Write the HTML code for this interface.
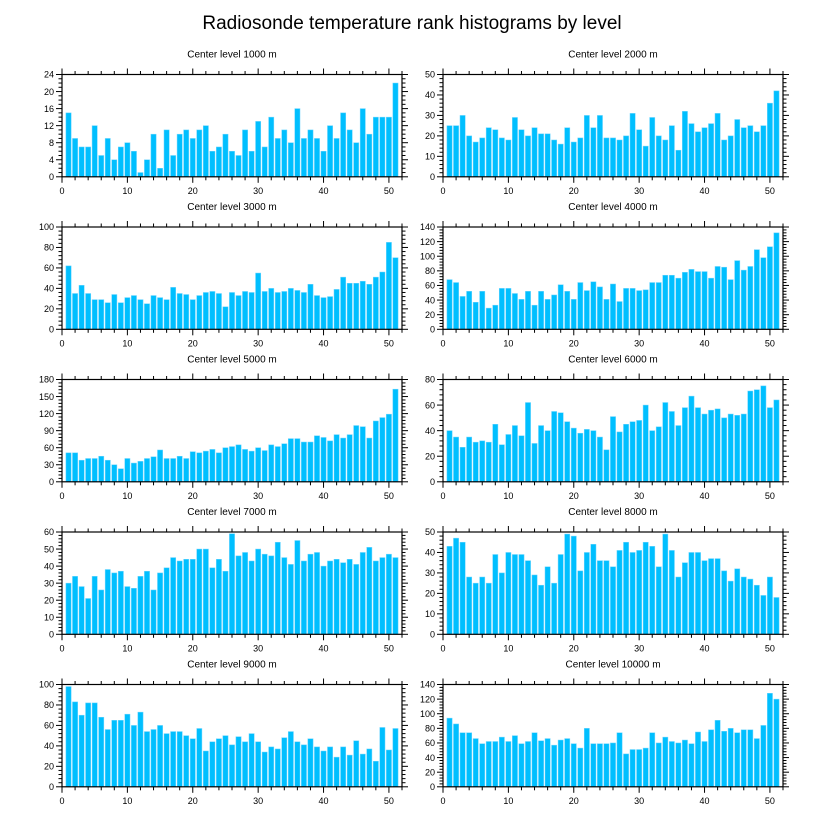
<!DOCTYPE html>
<html><head><meta charset="utf-8"><style>
html,body{margin:0;padding:0;background:#fff;}
svg{display:block;font-family:"Liberation Sans",Arial,sans-serif;}
</style></head><body>
<svg id="chart" width="824" height="824" viewBox="0 0 824 824" xmlns="http://www.w3.org/2000/svg">
<rect x="0" y="0" width="824" height="824" fill="#fff"/>
<text x="412" y="29" text-anchor="middle" font-size="19" fill="#000">Radiosonde temperature rank histograms by level</text>
</svg>
<script>
const levels = [1000,2000,3000,4000,5000,6000,7000,8000,9000,10000];
const yMax = [24,50,100,140,180,80,60,50,100,140];
const yStep = [4,10,20,20,30,20,10,10,20,20];
const xTicks = [0,10,20,30,40,50];
const v1000 = [15,9,7,7,12,5,9,4,7,8,6,1,4,10,2,11,5,10,11,9,11,12,6,7,10,6,5,11,6,13,7,14,9,11,8,16,9,11,9,6,12,9,15,11,8,16,10,14,14,14,22];
const v2000 = [25,25,30,20,17,19,24,23,19,18,29,23,20,24,21,21,18,16,24,17,19,30,24,30,19,19,18,20,31,23,15,29,20,18,25,13,32,26,22,24,26,31,18,20,28,24,25,22,25,36,42];
const v3000 = [62,35,43,35,29,29,26,34,26,31,33,29,25,33,31,29,41,35,34,29,33,36,37,35,22,36,33,37,36,55,37,40,36,37,40,38,36,44,33,31,32,39,51,45,45,47,44,51,56,85,70];
const v4000 = [68,64,45,52,37,52,29,33,56,56,49,41,52,33,52,41,47,61,52,41,64,53,65,58,41,62,38,56,56,53,54,64,64,74,74,70,78,82,79,79,70,86,85,68,94,81,86,109,98,113,132];
const v5000 = [51,51,38,41,41,45,38,30,23,41,33,36,41,44,56,41,41,45,41,53,51,54,57,51,60,62,65,57,54,60,55,65,62,67,76,76,70,70,81,78,72,83,77,83,99,97,77,107,113,119,163];
const v6000 = [40,35,27,35,31,32,31,45,29,37,44,36,62,30,44,40,55,54,47,42,38,41,40,35,25,51,39,45,47,48,60,40,43,62,55,44,58,67,58,53,56,57,50,53,52,53,71,72,75,58,64];
const v7000 = [30,34,28,21,34,26,38,36,37,28,27,34,37,26,36,39,45,43,44,44,50,50,39,44,37,59,46,48,43,50,47,46,54,45,41,55,43,47,48,40,43,44,42,44,41,48,51,43,45,47,45];
const v8000 = [43,47,45,28,25,28,25,39,30,40,39,39,36,29,24,33,25,39,49,48,31,40,44,36,36,33,41,45,40,41,45,43,33,49,41,28,35,40,40,36,37,37,31,26,32,28,27,24,19,28,18];
const v9000 = [98,83,70,82,82,68,56,65,65,71,60,73,54,56,60,52,54,54,50,47,57,35,44,47,50,41,49,44,52,44,34,39,37,48,54,44,41,47,39,35,39,29,39,31,45,32,37,25,58,36,57];
const v10000 = [94,86,74,74,66,59,62,62,68,62,70,59,62,74,63,66,57,64,66,59,53,80,59,59,59,60,74,45,51,51,53,74,60,68,62,60,64,59,75,62,78,91,76,80,74,78,78,66,84,128,120];
const series = [v1000,v2000,v3000,v4000,v5000,v6000,v7000,v8000,v9000,v10000];

const NS = "http://www.w3.org/2000/svg";
const svg = document.getElementById('chart');
const PW = 340, PH = 102.3, XMAX = 52;
const lefts = [62, 443];
const tops = [74.5, 227, 379.5, 532, 684.5];
function mk(tag, attrs, parent){
  const e = document.createElementNS(NS, tag);
  for (const k in attrs) e.setAttribute(k, attrs[k]);
  parent.appendChild(e);
  return e;
}
series.forEach((vals, p) => {
  const L = lefts[p % 2], T = tops[Math.floor(p / 2)];
  const B = T + PH;
  const xs = x => L + x / XMAX * PW;
  const ys = y => B - y / yMax[p] * PH;
  const g = mk('g', {}, svg);
  
  
  const t = mk('text', {x: L + PW / 2, y: T - 17, 'text-anchor': 'middle', 'font-size': '10', fill: '#000'}, g);
  t.textContent = 'Center level ' + levels[p] + ' m';
  
  
  vals.forEach((v, i) => {
    const x = i + 1;
    const r = mk('rect', {x: xs(x - 0.4), y: ys(v), width: xs(x + 0.4) - xs(x - 0.4), height: B - ys(v), fill: '#00bfff', stroke: '#6fd6ff', 'stroke-width': '0.5'}, g);
    
    
  });
  const frame = mk('rect', {x: L, y: T, width: PW, height: PH, fill: 'none', stroke: '#000', 'stroke-width': '1.2'}, g);
  
  
  // x ticks
  for (let x = 0; x <= XMAX; x += 2) {
    const major = x % 10 === 0;
    const len = major ? 6 : 3.5;
    mk('line', {x1: xs(x), x2: xs(x), y1: B, y2: B + len, stroke: '#000', 'stroke-width': '1'}, g);
    mk('line', {x1: xs(x), x2: xs(x), y1: T, y2: T - len, stroke: '#000', 'stroke-width': '1'}, g);
  }
  xTicks.forEach(x => {
    const tl = mk('text', {x: xs(x), y: B + 17, 'text-anchor': 'middle', 'font-size': '9', fill: '#000'}, g);
    tl.textContent = x;
    
    
  });
  // y ticks
  const st = yStep[p];
  const minor = (st % 4 === 0 && st < 10) ? st / 4 : st / 5;
  for (let y = 0; y <= yMax[p] + 1e-9; y += minor) {
    const major = Math.abs(y / st - Math.round(y / st)) < 1e-6;
    const len = major ? 6 : 3.5;
    mk('line', {x1: L, x2: L - len, y1: ys(y), y2: ys(y), stroke: '#000', 'stroke-width': '1'}, g);
    mk('line', {x1: L + PW, x2: L + PW + len, y1: ys(y), y2: ys(y), stroke: '#000', 'stroke-width': '1'}, g);
  }
  for (let y = 0; y <= yMax[p]; y += st) {
    const yl = mk('text', {x: L - 8, y: ys(y) + 3.2, 'text-anchor': 'end', 'font-size': '9', fill: '#000'}, g);
    yl.textContent = y;
    
    
  }
});
</script>
</body></html>
